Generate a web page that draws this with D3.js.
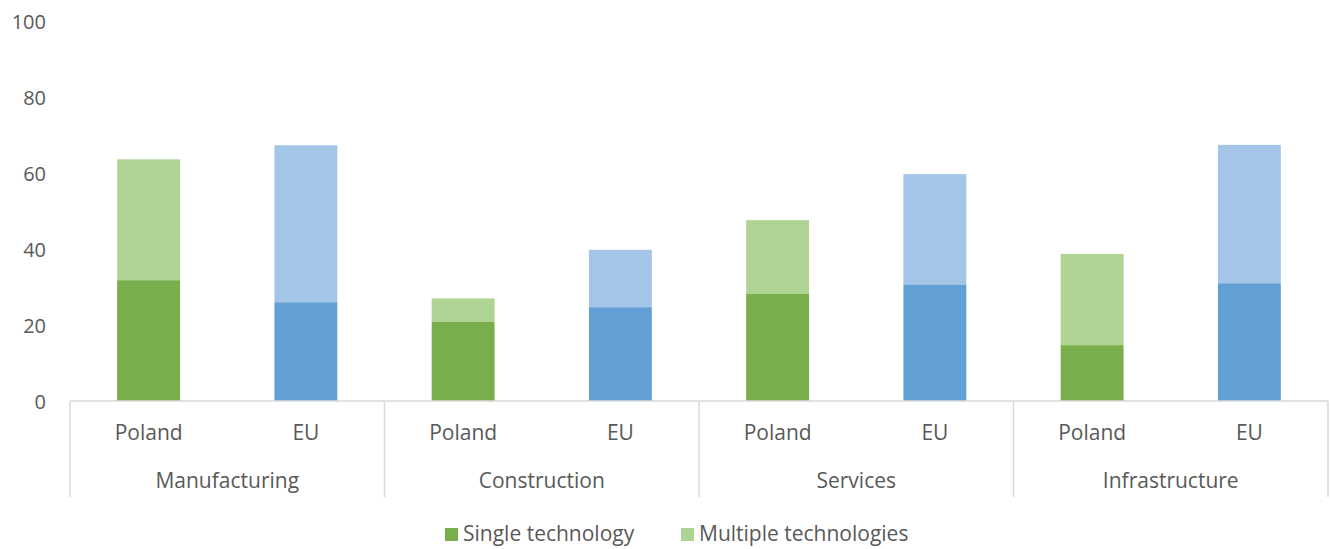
<!DOCTYPE html>
<html><head><meta charset="utf-8">
<script src="https://cdn.jsdelivr.net/npm/d3@7"></script>
<style>body{margin:0;background:#fff;} text{font-family:"Open Sans",sans-serif;fill:#595959;}</style>
</head><body><svg id="c" width="1330" height="549"></svg>
<script>
const sectors = ["Manufacturing","Construction","Services","Infrastructure"];
const regions = ["Poland","EU"];
const single = [31.8, 26.0, 20.8, 24.7, 28.3, 30.7, 14.7, 31.0];
const total = [63.6, 67.3, 27.0, 39.8, 47.6, 59.7, 38.7, 67.4];
const yTicks = [0,20,40,60,80,100];
const seriesNames = ["Single technology","Multiple technologies"];

const svg = d3.select("#c");
const x0 = 70, x1 = 1328, yTop = 21, yBot = 401;
const keys = [];
sectors.forEach(s => regions.forEach(r => keys.push(s + "|" + r)));
const x = d3.scaleBand().domain(keys).range([x0, x1]).paddingInner(0.6).paddingOuter(0.3);
const y = d3.scaleLinear().domain([0,100]).range([yBot, yTop]);
const colors = {Poland:["#78af4c","#afd393"], EU:["#619fd5","#a3c6e8"]};

const rows = keys.map((k,i) => ({k, region:k.split("|")[1], single:single[i], multi: total[i]-single[i]}));
const stack = d3.stack().keys(["single","multi"])(rows);
stack.forEach((layer, li) => {
  svg.append("g").selectAll("rect").data(layer).join("rect")
    .attr("x", d => x(d.data.k)).attr("width", x.bandwidth())
    .attr("y", d => y(d[1])).attr("height", d => y(d[0]) - y(d[1]))
    .attr("fill", d => colors[d.data.region][li]);
});

// y axis labels
const yAxis = d3.axisLeft(y).tickValues(yTicks).tickSize(0).tickPadding(24);
const gy = svg.append("g").attr("transform", `translate(${x0},0)`).call(yAxis);
gy.select(".domain").remove();
gy.selectAll("text").style("font-size","20px").attr("fill","#595959").attr("dy","0.35em");

// x axis
const line = "#d9d9d9";
svg.append("line").attr("x1", x0).attr("x2", x1).attr("y1", yBot).attr("y2", yBot).attr("stroke", line).attr("stroke-width",1.5);
const gs = d3.scaleBand().domain(sectors).range([x0, x1]);
const seps = sectors.map(s => gs(s)).concat([x1]);
svg.append("g").selectAll("line").data(seps).join("line")
  .attr("x1", d => d).attr("x2", d => d).attr("y1", yBot).attr("y2", 497)
  .attr("stroke", line).attr("stroke-width",1.5);

const xAxis = d3.axisBottom(x).tickSize(0).tickPadding(0).tickFormat(k => k.split("|")[1]);
const gx = svg.append("g").attr("transform", `translate(0,${yBot})`).call(xAxis);
gx.select(".domain").remove();
gx.selectAll("text").attr("y", 32).attr("dy","0.35em").style("font-size","21px").attr("fill","#595959");

svg.append("g").selectAll("text").data(sectors).join("text")
  .attr("x", d => gs(d) + gs.bandwidth()/2).attr("y", 481).attr("dy","0.35em")
  .attr("text-anchor","middle").style("font-size","21px").text(d => d);

// legend
const leg = svg.append("g");
const legItems = [{n:seriesNames[0], c:colors.Poland[0], x:445},{n:seriesNames[1], c:colors.Poland[1], x:681}];
legItems.forEach(it => {
  leg.append("rect").attr("x", it.x).attr("y", 528).attr("width", 13).attr("height", 13).attr("fill", it.c);
  leg.append("text").attr("x", it.x + 18).attr("y", 534).attr("dy","0.35em").style("font-size","21px").text(it.n);
});
</script></body></html>
